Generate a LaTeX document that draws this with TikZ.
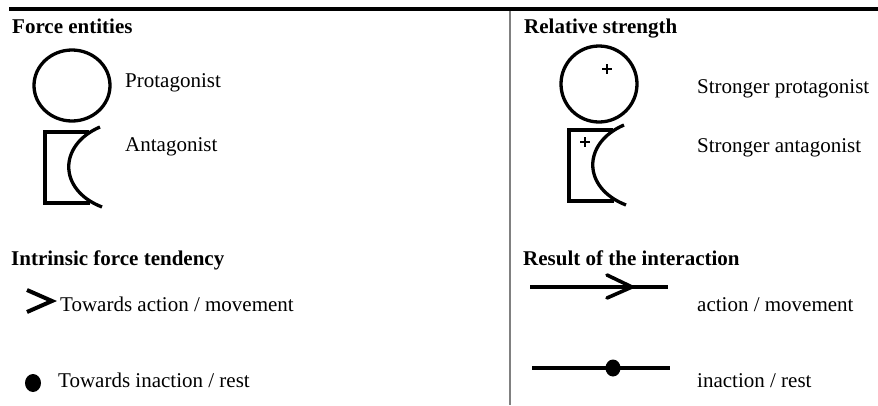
\documentclass[tikz,border=0pt]{standalone}
\usepackage{fontspec}
\setmainfont{Liberation Serif}
\usetikzlibrary{calc,positioning}

\begin{document}
\begin{tikzpicture}[x=1pt, y=-1pt, lbl/.style={anchor=base west, inner sep=0pt, font=\fontsize{21}{25}\selectfont}, hdr/.style={lbl, font=\fontsize{21}{25}\selectfont\bfseries}]
\tikzstyle{ent}=[line width=3.3pt]
\tikzstyle{res}=[line width=3.6pt]
\tikzstyle{plus}=[line width=2pt]
\useasboundingbox (0,0) rectangle (878,405);
\coordinate (tl) at (9,9);
\coordinate (tr) at (878,9);
\coordinate (vt) at (510,11);
\coordinate (vb) at (510,405);
\draw[line width=3.8pt] (tl) -- (tr);
\draw[gray, line width=1.5pt] (vt) -- (vb);
% headings
\node[hdr] (force) at (12,33) {Force entities};
\node[hdr] (rel) at (524,33) {Relative strength};
\node[hdr] (intr) at (11,265) {Intrinsic force tendency};
\node[hdr] (res) at (523,265) {Result of the interaction};
% labels
\node[lbl] (pro) at (125,87) {Protagonist};
\node[lbl] (ant) at (125,151) {Antagonist};
\node[lbl] (spro) at (697,93) {Stronger protagonist};
\node[lbl] (sant) at (697,152) {Stronger antagonist};
\node[lbl] (tact) at (60,311) {Towards action / movement};
\node[lbl] (tina) at (58,387) {Towards inaction / rest};
\node[lbl] (act) at (697,311) {action / movement};
\node[lbl] (ina) at (697,387) {inaction / rest};
% protagonists
\draw[ent] (72,85.5) ellipse [x radius=38, y radius=35.5];
\draw[ent] (599,84) ellipse [x radius=38, y radius=38];
% antagonists
\foreach \dx/\dy in {0/0,524/-2}{
  \begin{scope}[shift={(\dx,\dy)}]
    \draw[ent, line join=miter] (89,132) -- (45,132) -- (45,203) -- (90,203);
    \draw[ent] (100,127) .. controls (58,145) and (58,190) .. (102,207);
  \end{scope}
}
% plus signs
\foreach \px/\py in {607/69,585/142}{
  \draw[plus] (\px-5,\py) -- (\px+5,\py);
  \draw[plus] (\px,\py-5) -- (\px,\py+5);
}
% tendencies
\coordinate (chev) at (52,301);
\draw[line width=4pt, line join=miter] (27,290) -- (chev) -- (27,312);
\fill (33,383) ellipse [x radius=8, y radius=9];
% results
\coordinate (a1) at (530,287);
\coordinate (a2) at (668,287);
\coordinate (atip) at (632,287);
\draw[res] (a1) -- (a2);
\draw[res, line cap=round] (607,275) -- (atip) -- (607,298);
\coordinate (r1) at (532,368);
\coordinate (r2) at (670,368);
\draw[res] (r1) -- (r2);
\fill (613,368) ellipse [x radius=7.5, y radius=8.5];
\end{tikzpicture}
\end{document}
